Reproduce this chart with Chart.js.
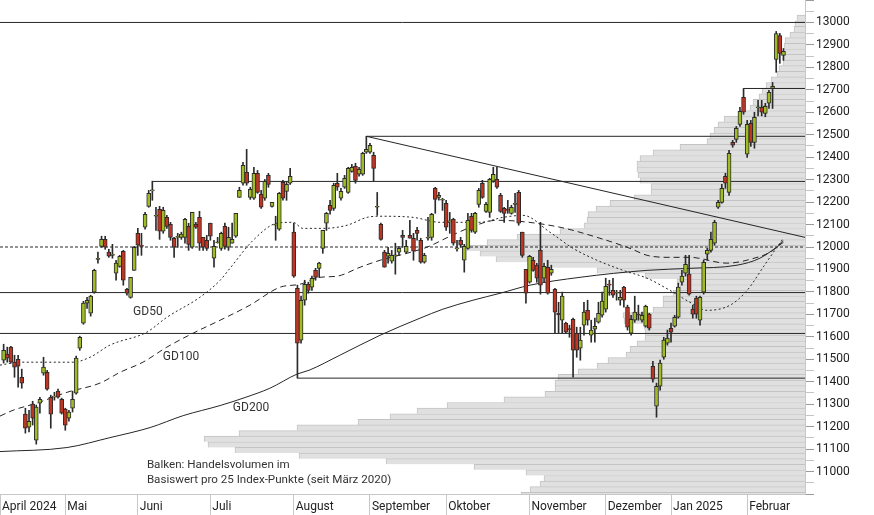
<!DOCTYPE html>
<html lang="de">
<head>
<meta charset="utf-8">
<title>Index mit Volumenprofil</title>
<script src="https://cdn.jsdelivr.net/npm/chart.js@4.4.1/dist/chart.umd.min.js"></script>
<style>
  html, body { margin: 0; padding: 0; background: #fff; overflow: hidden; }
  canvas { display: block; }
</style>
</head>
<body>
<canvas id="chart" width="874" height="515"></canvas>
<script>
// x = trading day index (0 = first candle), y = index points
const monthLabels = ['April 2024', 'Mai', 'Juni', 'Juli', 'August', 'September', 'Oktober', 'November', 'Dezember', 'Jan 2025', 'Februar'];
const monthStarts = [-1, 17, 37, 57, 80, 101, 122, 145, 166, 184, 205];

const opens = [
  11496, 11523, 11554, 11487, 11500, 11420, 11256, 11198, 11300, 11140, 11305, 11438, 11442, 11331, 11331, 11358, 11322,
  11278, 11238, 11282, 11349, 11549, 11661, 11750, 11705, 11799, 11945, 12003, 12034, 11977, 11963, 11883, 11914, 11981, 11812, 11776, 11896,
  12061, 12006, 12088, 12181, 12250, 12137, 12168, 12070, 12132, 12101, 12039, 12043, 12043, 12043, 12092, 11999, 12101, 12132, 12043, 12030,
  12106, 11950, 12019, 11994, 12092, 11999, 12017, 12048, 12221, 12284, 12333, 12221, 12217, 12328, 12235, 12217, 12319, 12181, 12097, 12079, 12288, 12248, 12284,
  12066, 11816, 11585, 11763, 11834, 11821, 11896, 11905, 11994, 12106, 12186, 12172, 12284, 12217, 12266, 12243, 12337, 12359, 12324, 12324, 12422,
  12422, 12408, 12177, 12101, 11977, 11959, 11937, 11961, 11977, 12052, 11977, 12052, 12039, 12074, 12030, 11932, 12039, 12043, 12261, 12221, 12208,
  12195, 12112, 12123, 11992, 12030, 11941, 11994, 12137, 12066, 12190, 12284, 12159, 12154, 12293, 12301, 12230, 12172, 12165, 12150, 12190, 12243, 12066, 11901,
  11843, 11941, 11919, 11985, 11861, 11910, 11883, 11812, 11705, 11674, 11661, 11636, 11678, 11616, 11549, 11652, 11718, 11607, 11634, 11665, 11696,
  11723, 11832, 11807, 11794, 11763, 11821, 11732, 11616, 11674, 11698, 11674, 11647, 11701, 11469, 11291, 11380, 11509, 11572,
  11638, 11647, 11687, 11843, 11883, 11879, 11723, 11772, 11674, 11799, 11968, 11985, 12017, 12177, 12199, 12315, 12243, 12466, 12479, 12546, 12666,
  12413, 12551, 12466, 12620, 12622, 12595, 12640, 12706, 12835, 12942, 12853
];
const highs = [
  11567, 11554, 11558, 11518, 11518, 11456, 11282, 11273, 11313, 11296, 11331, 11509, 11451, 11340, 11353, 11367, 11327,
  11282, 11273, 11358, 11514, 11603, 11758, 11776, 11785, 11901, 11977, 12048, 12048, 11990, 12012, 11941, 11963, 11985, 11816, 11865, 12003,
  12083, 12061, 12154, 12252, 12293, 12177, 12181, 12177, 12141, 12110, 12043, 12061, 12066, 12128, 12106, 12154, 12110, 12159, 12043, 12052,
  12106, 12030, 12043, 12066, 12106, 12088, 12106, 12150, 12266, 12377, 12435, 12266, 12355, 12341, 12252, 12301, 12328, 12199, 12137, 12243, 12297, 12288, 12350,
  12106, 11830, 11781, 11852, 11843, 11870, 11905, 11932, 12074, 12154, 12208, 12284, 12328, 12261, 12319, 12355, 12368, 12373, 12355, 12422, 12493,
  12462, 12422, 12243, 12106, 11985, 11999, 11985, 12017, 12003, 12074, 12030, 12119, 12061, 12088, 12039, 11972, 12132, 12150, 12266, 12243, 12217,
  12208, 12154, 12128, 12030, 12043, 12012, 12150, 12150, 12154, 12261, 12297, 12199, 12306, 12355, 12355, 12239, 12177, 12208, 12186, 12239, 12252, 12066, 11901,
  11963, 11954, 11928, 12110, 11928, 11941, 11919, 11816, 11754, 11799, 11665, 11652, 11683, 11643, 11643, 11754, 11763, 11674, 11683, 11754, 11799,
  11861, 11852, 11861, 11807, 11807, 11825, 11741, 11696, 11781, 11741, 11710, 11741, 11705, 11491, 11394, 11496, 11598, 11630,
  11661, 11696, 11839, 11896, 11963, 11963, 11741, 11781, 11781, 11941, 11994, 12066, 12119, 12208, 12279, 12328, 12430, 12475, 12537, 12622, 12706,
  12564, 12564, 12600, 12653, 12653, 12640, 12698, 12733, 12960, 12951, 12884
];
const lows = [
  11483, 11487, 11483, 11420, 11376, 11371, 11171, 11176, 11207, 11122, 11260, 11429, 11362, 11193, 11318, 11327, 11256,
  11184, 11224, 11265, 11345, 11540, 11656, 11727, 11692, 11794, 11928, 11999, 11990, 11954, 11950, 11852, 11910, 11830, 11785, 11772, 11896,
  11963, 11963, 12079, 12177, 12208, 12074, 12034, 12061, 12083, 12030, 11954, 11999, 12034, 12017, 11985, 11994, 12083, 11985, 11985, 11985,
  12030, 11910, 12017, 11985, 11990, 11985, 12017, 12043, 12221, 12275, 12275, 12212, 12212, 12239, 12172, 12208, 12266, 12177, 12030, 12074, 12208, 12208, 12279,
  11865, 11416, 11572, 11741, 11794, 11807, 11852, 11865, 11972, 12074, 12146, 12163, 12252, 12208, 12261, 12239, 12333, 12284, 12315, 12319, 12417,
  12417, 12293, 12141, 12030, 11910, 11928, 11928, 11879, 11963, 11999, 11972, 12039, 11941, 12030, 11928, 11928, 12030, 12030, 12150, 12208, 12163,
  12074, 12061, 12008, 11981, 11999, 11888, 11990, 12066, 12061, 12177, 12217, 12154, 12132, 12288, 12261, 12154, 12110, 12150, 12146, 12154, 12097, 11954, 11750,
  11839, 11892, 11843, 11790, 11843, 11790, 11874, 11616, 11616, 11616, 11616, 11598, 11420, 11509, 11496, 11607, 11652, 11576, 11576, 11661, 11687,
  11710, 11785, 11776, 11763, 11741, 11732, 11630, 11607, 11665, 11674, 11665, 11643, 11630, 11398, 11242, 11362, 11500, 11563,
  11576, 11643, 11683, 11830, 11870, 11785, 11683, 11683, 11652, 11790, 11941, 11977, 12008, 12172, 12195, 12261, 12230, 12444, 12466, 12537, 12591,
  12399, 12448, 12440, 12584, 12584, 12580, 12617, 12617, 12778, 12818, 12831
];
const closes = [
  11540, 11505, 11487, 11465, 11469, 11394, 11193, 11224, 11238, 11287, 11322, 11465, 11367, 11256, 11336, 11331, 11260,
  11207, 11265, 11322, 11505, 11598, 11750, 11763, 11781, 11896, 11950, 12034, 11999, 11959, 11968, 11928, 11959, 11852, 11794, 11865, 11999,
  12008, 12003, 12146, 12239, 12254, 12139, 12070, 12163, 12092, 12043, 11999, 12045, 12057, 12123, 12012, 12154, 12088, 12017, 11999, 11994,
  12048, 12003, 12021, 12061, 12003, 12043, 12034, 12150, 12252, 12364, 12284, 12257, 12328, 12243, 12177, 12293, 12279, 12199, 12099, 12239, 12217, 12279, 12315,
  11870, 11572, 11763, 11834, 11807, 11861, 11865, 11928, 12074, 12150, 12163, 12275, 12266, 12248, 12306, 12350, 12355, 12297, 12346, 12417, 12435,
  12453, 12350, 12179, 12034, 11910, 11972, 11963, 11963, 11994, 12043, 12003, 12039, 11981, 12061, 11932, 11963, 12043, 12146, 12212, 12230, 12210,
  12088, 12114, 12017, 11994, 12008, 12003, 12119, 12074, 12150, 12252, 12221, 12190, 12301, 12324, 12266, 12159, 12150, 12163, 12177, 12195, 12106, 11963, 11794,
  11959, 11896, 11861, 11830, 11914, 11794, 11901, 11710, 11698, 11781, 11621, 11632, 11540, 11540, 11585, 11710, 11674, 11630, 11647, 11705, 11759,
  11825, 11830, 11785, 11796, 11776, 11763, 11643, 11678, 11710, 11696, 11696, 11736, 11638, 11411, 11380, 11483, 11585, 11594,
  11621, 11687, 11821, 11870, 11923, 11790, 11701, 11701, 11776, 11932, 11985, 12034, 12110, 12199, 12261, 12284, 12417, 12453, 12528, 12604, 12600,
  12546, 12466, 12577, 12624, 12600, 12626, 12689, 12715, 12951, 12862, 12871
];

// moving averages at [day, points]
const gd50 = [
  [-1, 11474], [4.5, 11487], [10.9, 11487], [19.1, 11487], [23.8, 11509], [29.3, 11563], [39.5, 11621], [45, 11687],
  [54.1, 11776], [59.7, 11852], [62.4, 11905], [68.8, 12030], [75.4, 12106], [79.8, 12110], [82.5, 12083], [88.1, 12083],
  [94.7, 12097], [100.2, 12132], [103.8, 12137], [112.9, 12132], [120.3, 12110], [131.3, 12110], [137.7, 12132], [143.2, 12141],
  [150.6, 12066], [157, 11994], [163.6, 11941], [170.8, 11896], [177.4, 11861], [183.7, 11807], [189.2, 11754], [193.9, 11718],
  [200.3, 11741], [205, 11807], [209.4, 11910], [213.2, 11999], [215, 12039]
];
const gd100 = [
  [-1, 11247], [2.6, 11273], [9.2, 11305], [17.5, 11353], [26.6, 11394], [32.1, 11442], [38.4, 11487], [45, 11554],
  [52.2, 11616], [59.7, 11674], [67.9, 11741], [76.2, 11821], [81.7, 11834], [87.2, 11865], [91.9, 11870], [98.3, 11910],
  [103.8, 11941], [111.2, 11972], [116.7, 11999], [123.1, 12048], [129.4, 12092], [136, 12119], [142.4, 12114], [153.4, 12088],
  [164.4, 12039], [172.7, 11994], [177.4, 11963], [182.9, 11954], [189.2, 11954], [199.4, 11928], [205.8, 11945], [212.1, 11985],
  [215, 12030]
];
const gd200 = [
  [-1, 11089], [17.5, 11107], [29.3, 11151], [40.4, 11196], [49.5, 11249], [59.7, 11294], [66.8, 11331], [73.4, 11371],
  [80.9, 11434], [84.2, 11451], [92.7, 11518], [103.8, 11607], [114.8, 11683], [121.1, 11723], [129.4, 11763], [136.9, 11794],
  [145.1, 11830], [158.9, 11865], [177.4, 11896], [189.2, 11905], [202.2, 11919], [208.5, 11950], [215, 12021]
];

// horizontal marks: price level and the day they start at
const levelPrices = [13000, 12706, 12493, 12292, 11797, 11615, 11416];
const levelStarts = [-1, 204, 100, 41, -1, -1, 81];
const midLevel = 12000;
const trendStart = [100, 12493];
const trendEndPrice = 12043;

// volume profile, 25-point bins (centre price) and relative volume
const profileLevels = [
  13032.5, 13007.5, 12982.5, 12957.5, 12932.5, 12907.5, 12882.5, 12857.5, 12832.5, 12807.5,
  12782.5, 12757.5, 12732.5, 12707.5, 12682.5, 12657.5, 12632.5, 12607.5, 12582.5, 12557.5,
  12532.5, 12507.5, 12482.5, 12457.5, 12432.5, 12407.5, 12382.5, 12357.5, 12332.5, 12307.5,
  12282.5, 12257.5, 12232.5, 12207.5, 12182.5, 12157.5, 12132.5, 12107.5, 12082.5, 12057.5,
  12032.5, 12007.5, 11982.5, 11957.5, 11932.5, 11907.5, 11882.5, 11857.5, 11832.5, 11807.5,
  11782.5, 11757.5, 11732.5, 11707.5, 11682.5, 11657.5, 11632.5, 11607.5, 11582.5, 11557.5,
  11532.5, 11507.5, 11482.5, 11457.5, 11432.5, 11407.5, 11382.5, 11357.5, 11332.5, 11307.5,
  11282.5, 11257.5, 11232.5, 11207.5, 11182.5, 11157.5, 11132.5, 11107.5, 11082.5, 11057.5,
  11032.5, 11007.5, 10982.5, 10957.5, 10932.5, 10907.5
];
const profileVolume = [
  8, 10, 11, 15, 20, 21, 22, 22, 22, 26,
  28, 34, 39, 43, 46, 52, 55, 65, 81, 87,
  91, 95, 98, 125, 152, 165, 168, 168, 167, 165,
  154, 154, 171, 195, 209, 217, 218, 221, 245, 288,
  318, 338, 325, 309, 259, 208, 160, 128, 125, 132,
  142, 142, 152, 182, 181, 161, 160, 160, 168, 175,
  179, 197, 208, 227, 247, 250, 250, 260, 301, 358,
  388, 415, 447, 508, 566, 601, 597, 570, 506, 419,
  331, 279, 261, 265, 275, 284
];

const X_MIN = -1, X_MAX = 220.94;
const Y_MIN = 10900, Y_MAX = 13100;
const FONT = 'Roboto, "Liberation Sans", sans-serif';
const UP = '#9fbc25', DOWN = '#bf3523', INK = '#262626';

const noteItems = [
  { text: 'GD50', x: 35.7, y: 11710, size: 12 },
  { text: 'GD100', x: 43.9, y: 11509, size: 12 },
  { text: 'GD200', x: 63.2, y: 11282, size: 12 },
  { text: 'Balken: Handelsvolumen im', x: 39.5, y: 11029, size: 11.6 },
  { text: 'Basiswert pro 25 Index-Punkte (seit März 2020)', x: 39.5, y: 10962, size: 11.6 }
];

Chart.defaults.font.family = FONT;
Chart.defaults.font.size = 12;
Chart.defaults.color = '#222';

const notesPlugin = {
  id: 'notes',
  afterDatasetsDraw(chart) {
    const { ctx, scales: { x, y } } = chart;
    ctx.save();
    ctx.fillStyle = '#333';
    ctx.textAlign = 'left';
    ctx.textBaseline = 'middle';
    noteItems.forEach(n => {
      ctx.font = n.size + 'px ' + FONT;
      ctx.fillText(n.text, x.getPixelForValue(n.x), y.getPixelForValue(n.y));
    });
    ctx.restore();
  }
};

const days = opens.map((_, i) => i);

function flatLine(from, price, dash) {
  return {
    type: 'line',
    data: [{ x: from, y: price }, { x: X_MAX, y: price }],
    borderColor: INK, borderWidth: 1, borderDash: dash || [],
    pointRadius: 0, tension: 0, xAxisID: 'x', yAxisID: 'y', order: 4
  };
}

function maLine(points, dash) {
  return {
    type: 'line',
    data: points.map(([x, y]) => ({ x, y })),
    borderColor: '#262626', borderWidth: 1, borderDash: dash,
    pointRadius: 0, cubicInterpolationMode: 'monotone',
    xAxisID: 'x', yAxisID: 'y', order: 3
  };
}

const datasets = [
  {
    type: 'bar',
    data: days.map(i => ({ x: i, y: [opens[i], closes[i]] })),
    backgroundColor: days.map(i => (closes[i] >= opens[i] ? UP : DOWN)),
    borderColor: '#2b2b2b', borderWidth: 1, borderSkipped: false,
    barThickness: 4, minBarLength: 1, grouped: false,
    xAxisID: 'x', yAxisID: 'y', order: 1
  },
  {
    type: 'bar',
    data: days.map(i => ({ x: i, y: [lows[i], highs[i]] })),
    backgroundColor: '#2b2b2b', borderWidth: 0,
    barThickness: 1, grouped: false,
    xAxisID: 'x', yAxisID: 'y', order: 2
  },
  maLine(gd50, [2, 2.5]),
  maLine(gd100, [6, 4]),
  maLine(gd200, []),
  ...levelPrices.map((p, k) => flatLine(levelStarts[k], p)),
  flatLine(X_MIN, midLevel, [3, 2]),
  {
    type: 'line',
    data: [{ x: trendStart[0], y: trendStart[1] }, { x: X_MAX, y: trendEndPrice }],
    borderColor: INK, borderWidth: 1, pointRadius: 0,
    xAxisID: 'x', yAxisID: 'y', order: 4
  },
  {
    type: 'bar',
    indexAxis: 'y',
    data: profileLevels.map((p, k) => ({ x: profileVolume[k], y: p })),
    backgroundColor: '#e0e0e0', borderColor: '#c3c3c3',
    borderWidth: { top: 1, left: 1, right: 0, bottom: 0 }, borderSkipped: false,
    barThickness: 5.61,
    xAxisID: 'xv', yAxisID: 'y', order: 10
  }
];

new Chart(document.getElementById('chart'), {
  type: 'bar',
  data: { datasets },
  plugins: [notesPlugin],
  options: {
    responsive: false,
    devicePixelRatio: 1,
    animation: false,
    events: [],
    layout: { padding: 0 },
    plugins: { legend: { display: false }, tooltip: { enabled: false } },
    scales: {
      x: {
        type: 'linear', min: X_MIN, max: X_MAX, offset: false,
        afterBuildTicks: ax => { ax.ticks = monthStarts.map(v => ({ value: v })); },
        afterFit: ax => { ax.height = 21; },
        grid: { drawOnChartArea: false, drawTicks: true, tickLength: 21, color: '#c8c8c8', offset: false },
        border: { color: '#c8c8c8' },
        ticks: {
          autoSkip: false, maxRotation: 0, align: 'start', labelOffset: 2, padding: -15,
          color: '#222', font: { size: 12 },
          callback: (v, idx) => monthLabels[idx]
        }
      },
      xv: { type: 'linear', display: false, min: 0, max: 805, reverse: true, offset: false },
      y: {
        type: 'linear', position: 'right', min: Y_MIN, max: Y_MAX, offset: false,
        afterFit: ax => { ax.width = 69; ax.paddingTop = 0; ax.paddingBottom = 0; },
        grid: {
          drawOnChartArea: false, tickLength: 9, offset: false,
          tickColor: c => (c.tick && Math.round(c.tick.value) % 100 === 0 ? '#9a9a9a' : '#c4c4c4')
        },
        border: { color: '#c8c8c8' },
        ticks: {
          stepSize: 50, includeBounds: false, autoSkip: false, padding: 2, color: '#222', font: { size: 12 },
          callback: v => {
            const r = Math.round(v);
            return r % 100 === 0 && r >= 11000 && r <= 13000 ? String(r) : '';
          }
        }
      }
    }
  }
});
</script>
</body>
</html>
